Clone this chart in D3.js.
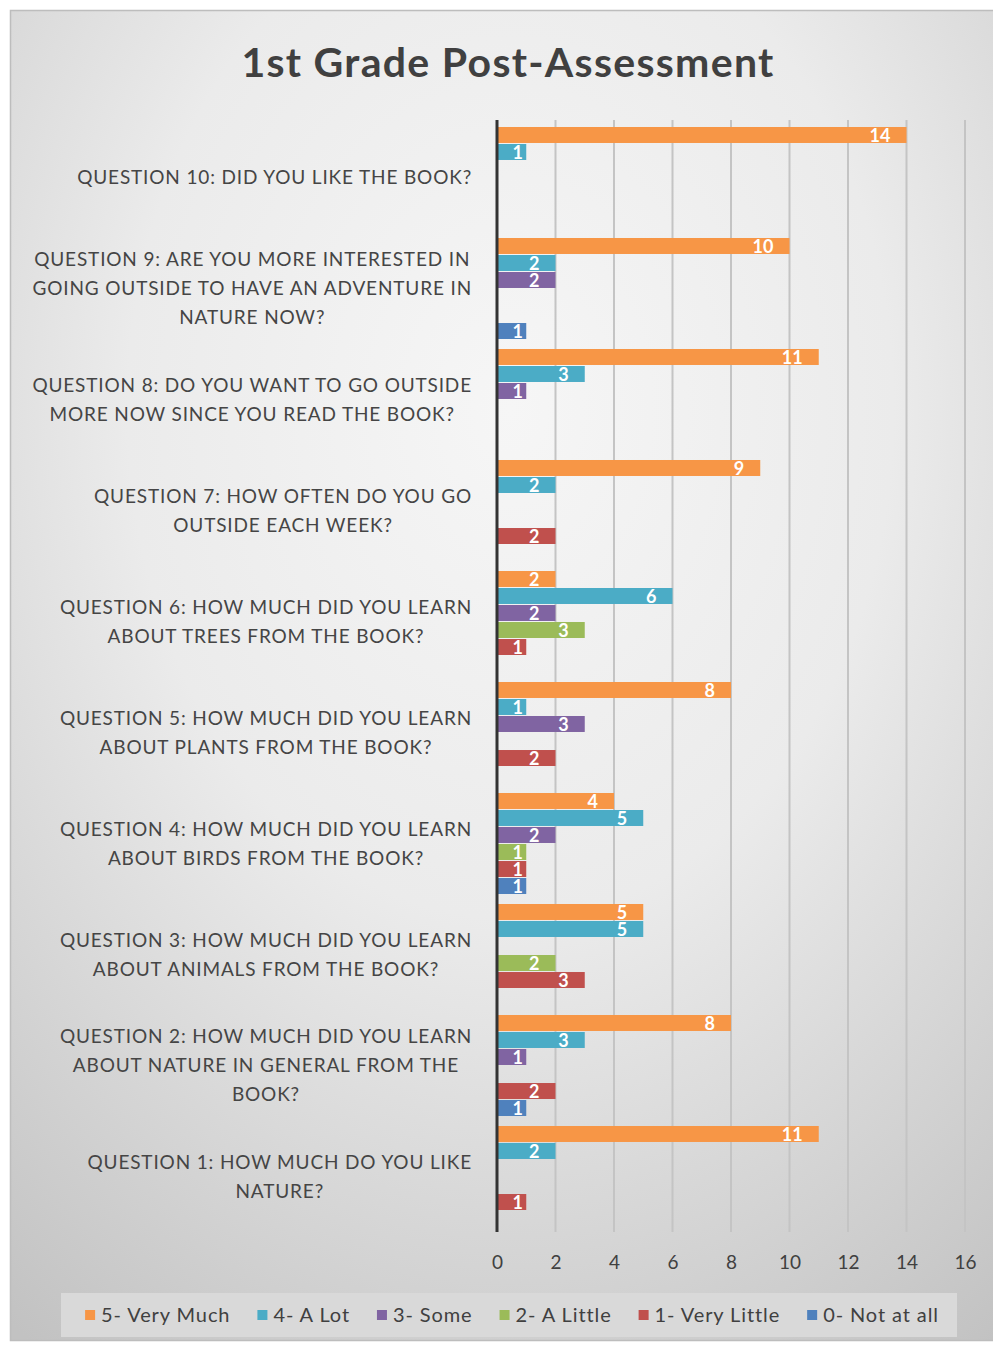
<!DOCTYPE html>
<html><head><meta charset="utf-8">
<script src="https://cdn.jsdelivr.net/npm/d3@7"></script>
<style>html,body{margin:0;padding:0;background:#fff;} svg{display:block;}</style>
</head><body>
<svg id="chart" width="993" height="1346"></svg>
<script>
const title = "1st Grade Post-Assessment";
const categories = [
  "QUESTION 10: DID YOU LIKE THE BOOK?",
  "QUESTION 9: ARE YOU MORE INTERESTED IN\nGOING OUTSIDE TO HAVE AN ADVENTURE IN\nNATURE NOW?",
  "QUESTION 8: DO YOU WANT TO GO OUTSIDE\nMORE NOW SINCE YOU READ THE BOOK?",
  "QUESTION 7: HOW OFTEN DO YOU GO\nOUTSIDE EACH WEEK?",
  "QUESTION 6: HOW MUCH DID YOU LEARN\nABOUT TREES FROM THE BOOK?",
  "QUESTION 5: HOW MUCH DID YOU LEARN\nABOUT PLANTS FROM THE BOOK?",
  "QUESTION 4: HOW MUCH DID YOU LEARN\nABOUT BIRDS FROM THE BOOK?",
  "QUESTION 3: HOW MUCH DID YOU LEARN\nABOUT ANIMALS FROM THE BOOK?",
  "QUESTION 2: HOW MUCH DID YOU LEARN\nABOUT NATURE IN GENERAL FROM THE\nBOOK?",
  "QUESTION 1: HOW MUCH DO YOU LIKE\nNATURE?"
];
const seriesNames = ["5- Very Much", "4- A Lot", "3- Some", "2- A Little", "1- Very Little", "0- Not at all"];
const seriesColors = ["#F79646", "#4BACC6", "#8064A2", "#9BBB59", "#C0504D", "#4F81BD"];
// values per category (same order as categories), null = no bar
const veryMuch   = [14, 10, 11, 9, 2, 8, 4, 5, 8, 11];
const aLot       = [1, 2, 3, 2, 6, 1, 5, 5, 3, 2];
const some       = [null, 2, 1, null, 2, 3, 2, null, 1, null];
const aLittle    = [null, null, null, null, 3, null, 1, 2, null, null];
const veryLittle = [null, null, null, 2, 1, 2, 1, 3, 2, 1];
const notAtAll   = [null, 1, null, null, null, null, 1, null, 1, null];
const xTicks = [0, 2, 4, 6, 8, 10, 12, 14, 16];

const seriesValues = [veryMuch, aLot, some, aLittle, veryLittle, notAtAll];

const svg = d3.select("#chart");
const font = "Lato, 'Open Sans', sans-serif";

// background
const defs = svg.append("defs");
const rg = defs.append("radialGradient").attr("id", "bg")
  .attr("cx", "50%").attr("cy", "30%").attr("r", "85%");
rg.append("stop").attr("offset", "0%").attr("stop-color", "#f6f6f6");
rg.append("stop").attr("offset", "45%").attr("stop-color", "#ebebeb");
rg.append("stop").attr("offset", "100%").attr("stop-color", "#c2c2c2");
svg.append("rect").attr("x", 10.5).attr("y", 10.5).attr("width", 1000).attr("height", 1330)
  .attr("fill", "url(#bg)").attr("stroke", "#bdbdbd").attr("stroke-width", 1.5);

// title
svg.append("text").attr("x", 508).attr("y", 77).attr("text-anchor", "middle")
  .attr("font-family", font).attr("font-weight", "bold").attr("font-size", 41)
  .attr("letter-spacing", 1.3).attr("fill", "#404040").text(title);

// scales
const x = d3.scaleLinear().domain([0, 16]).range([497, 965]);
const y = d3.scaleBand().domain(categories).range([122, 1232]).paddingInner(0.09).paddingOuter(0.045);
const ySub = d3.scaleBand().domain(seriesNames).range([0, y.bandwidth()]).paddingInner(0.06);

// gridlines
svg.append("g").selectAll("line").data(xTicks.filter(d => d > 0)).join("line")
  .attr("x1", d => x(d)).attr("x2", d => x(d)).attr("y1", 120).attr("y2", 1232)
  .attr("stroke", "#c4c4c4").attr("stroke-width", 2);

// bars
const barData = [];
categories.forEach((c, i) => {
  seriesNames.forEach((s, j) => {
    const v = seriesValues[j][i];
    if (v != null) barData.push({cat: c, series: s, value: v, color: seriesColors[j]});
  });
});
const bars = svg.append("g");
bars.selectAll("rect").data(barData).join("rect")
  .attr("x", x(0)).attr("y", d => y(d.cat) + ySub(d.series))
  .attr("width", d => x(d.value) - x(0)).attr("height", ySub.bandwidth())
  .attr("fill", d => d.color);

// value labels
bars.selectAll("text").data(barData).join("text")
  .attr("x", d => Math.max(x(d.value) - 16, x(0) + 26))
  .attr("y", d => y(d.cat) + ySub(d.series) + ySub.bandwidth() / 2)
  .attr("dy", "0.4em").attr("text-anchor", "end")
  .attr("font-family", font).attr("font-weight", "bold").attr("font-size", 18)
  .attr("fill", "#ffffff").text(d => d.value);

// y axis line
svg.append("line").attr("x1", x(0)).attr("x2", x(0)).attr("y1", 120).attr("y2", 1232)
  .attr("stroke", "#333333").attr("stroke-width", 3);

// x axis tick labels
const xAxis = d3.axisBottom(x).tickValues(xTicks).tickSize(0).tickPadding(0);
const xg = svg.append("g").attr("transform", "translate(0,1262)").call(xAxis);
xg.select(".domain").remove();
xg.selectAll("text").attr("dy", "0.35em").attr("font-family", font).attr("font-size", 19).attr("fill", "#404040");

// category labels
const lineH = 29;
const labels = svg.append("g");
categories.forEach(c => {
  const lines = c.split("\n");
  const g = labels.append("g");
  const cy = y(c) + y.bandwidth() / 2;
  const texts = lines.map((ln, k) => g.append("text")
    .attr("y", cy + (k - (lines.length - 1) / 2) * lineH)
    .attr("dy", "0.35em").attr("text-anchor", "middle")
    .attr("font-family", font).attr("font-size", 19).attr("letter-spacing", 0.85)
    .attr("fill", "#454545").text(ln));
  const maxW = d3.max(texts, t => t.node().getComputedTextLength());
  texts.forEach(t => t.attr("x", 472 - maxW / 2));
});

// legend
svg.append("rect").attr("x", 61).attr("y", 1293).attr("width", 896).attr("height", 44).attr("fill", "#d9d9d9");
const lg = svg.append("g");
const items = seriesNames.map((s, j) => {
  const g = lg.append("g");
  g.append("rect").attr("x", 0).attr("y", -5).attr("width", 10).attr("height", 10).attr("fill", seriesColors[j]);
  const t = g.append("text").attr("x", 16).attr("y", 0).attr("dy", "0.35em")
    .attr("font-family", font).attr("font-size", 20).attr("letter-spacing", 0.9)
    .attr("fill", "#404040").text(s);
  return {g, w: 16 + t.node().getComputedTextLength()};
});
const gap = 27;
const total = d3.sum(items, d => d.w) + gap * (items.length - 1);
let cx = 512 - total / 2;
items.forEach(it => { it.g.attr("transform", `translate(${cx},1315)`); cx += it.w + gap; });
</script>
</body></html>
